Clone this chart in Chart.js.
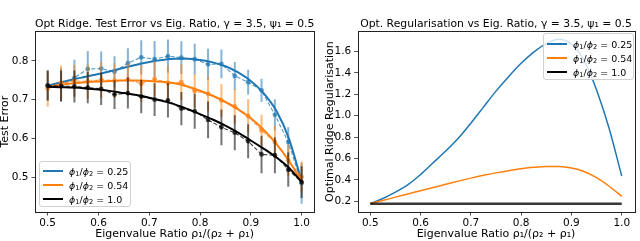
<!DOCTYPE html>
<html><head><meta charset="utf-8">
<script src="https://cdn.jsdelivr.net/npm/chart.js@4.4.1/dist/chart.umd.min.js"></script>
<style>
body{margin:0;background:#fff;width:640px;height:241px;overflow:hidden;position:relative;font-family:"DejaVu Sans",sans-serif;}
canvas{position:absolute;top:0;}
#c1{left:0}
#c2{left:320px}
.leg{position:absolute;background:rgba(255,255,255,0.8);border:1px solid #d0d0d0;border-radius:3px;box-sizing:border-box;font-size:9.5px;color:#000}
.row{position:absolute;height:14px;display:flex;align-items:center;white-space:nowrap}
.sw{display:inline-block;width:20px;margin-right:6px}
.sb{font-size:70%;position:relative;top:0.3em}
</style></head><body>
<canvas id="c1" width="320" height="241"></canvas>
<canvas id="c2" width="320" height="241"></canvas>
<div id="leg1" class="leg" style="left:39px;top:161px;width:92px;height:46px"></div>
<div id="leg2" class="leg" style="left:543px;top:33px;width:91px;height:47px"></div>
<script>
// ---------- data ----------
const seriesRatios = ['0.25', '0.54', '1.0'];
const seriesColors = ['#1f77b4', '#ff7f0e', '#000000'];

// empirical sample points (x)
const xEmp = [0.5, 0.5263, 0.5526, 0.5789, 0.6053, 0.6316, 0.6579, 0.6842, 0.7105, 0.7368,
              0.7632, 0.7895, 0.8158, 0.8421, 0.8684, 0.8947, 0.9211, 0.9474, 0.9737, 1.0];
// theory curve points (x)
const xTh = [0.5, 0.525, 0.55, 0.575, 0.6, 0.625, 0.65, 0.675, 0.7, 0.725, 0.75,
             0.775, 0.8, 0.825, 0.85, 0.875, 0.9, 0.925, 0.95, 0.975, 1.0];

// left: theory test error
const theory025 = [0.736, 0.744, 0.752, 0.759, 0.766, 0.774, 0.782, 0.790, 0.797, 0.802, 0.805,
                   0.805, 0.802, 0.796, 0.786, 0.770, 0.748, 0.717, 0.672, 0.600, 0.490];
const theory054 = [0.733, 0.738, 0.742, 0.745, 0.747, 0.748, 0.749, 0.749, 0.748, 0.746, 0.742,
                   0.734, 0.723, 0.710, 0.694, 0.675, 0.652, 0.623, 0.587, 0.543, 0.490];
const theory100 = [0.733, 0.732, 0.731, 0.729, 0.726, 0.722, 0.717, 0.712, 0.705, 0.697, 0.688,
                   0.676, 0.663, 0.649, 0.633, 0.615, 0.595, 0.574, 0.552, 0.525, 0.488];

// left: empirical test error (means) and error bar half-widths
const emp025 = [0.737, 0.738, 0.756, 0.779, 0.780, 0.772, 0.794, 0.809, 0.804, 0.812,
                0.808, 0.804, 0.791, 0.792, 0.761, 0.745, 0.724, 0.661, 0.591, 0.485];
const std025 = [0.040, 0.043, 0.047, 0.046, 0.044, 0.040, 0.038, 0.044, 0.047, 0.043,
                0.042, 0.040, 0.040, 0.037, 0.036, 0.032, 0.030, 0.040, 0.038, 0.053];
const emp054 = [0.729, 0.743, 0.748, 0.747, 0.751, 0.749, 0.752, 0.741, 0.753, 0.743,
                0.745, 0.722, 0.715, 0.698, 0.683, 0.658, 0.621, 0.591, 0.544, 0.501];
const std054 = [0.047, 0.045, 0.042, 0.044, 0.046, 0.045, 0.043, 0.047, 0.045, 0.044,
                0.046, 0.043, 0.045, 0.042, 0.044, 0.043, 0.040, 0.042, 0.040, 0.040];
const emp100 = [0.736, 0.735, 0.734, 0.731, 0.728, 0.713, 0.717, 0.708, 0.700, 0.698,
                0.677, 0.670, 0.648, 0.629, 0.615, 0.593, 0.559, 0.557, 0.520, 0.488];
const std100 = [0.038, 0.040, 0.041, 0.040, 0.042, 0.037, 0.040, 0.043, 0.042, 0.044,
                0.043, 0.045, 0.047, 0.046, 0.045, 0.044, 0.048, 0.046, 0.044, 0.041];

// right: optimal ridge regularisation
const optReg025 = [0.178, 0.225, 0.285, 0.355, 0.450, 0.560, 0.670, 0.790, 0.930, 1.080, 1.230,
                   1.365, 1.490, 1.595, 1.675, 1.716, 1.670, 1.520, 1.240, 0.880, 0.435];
const optReg054 = [0.178, 0.207, 0.238, 0.268, 0.298, 0.328, 0.358, 0.388, 0.416, 0.442, 0.465,
                   0.485, 0.503, 0.517, 0.525, 0.524, 0.510, 0.478, 0.420, 0.340, 0.245];
const optReg100 = [0.177, 0.177, 0.177, 0.177, 0.177, 0.177, 0.177, 0.177, 0.177, 0.177, 0.177,
                   0.177, 0.177, 0.177, 0.177, 0.177, 0.177, 0.177, 0.177, 0.177, 0.177];

// ticks
const xTicks = [0.5, 0.6, 0.7, 0.8, 0.9, 1.0];
const yTicksLeft = [0.5, 0.6, 0.7, 0.8];
const yTicksRight = [0.2, 0.4, 0.6, 0.8, 1.0, 1.2, 1.4, 1.6];

// ---------- helpers ----------
function rgba(hex, a) {
  const n = parseInt(hex.slice(1), 16);
  return `rgba(${(n >> 16) & 255},${(n >> 8) & 255},${n & 255},${a})`;
}
const pts = (xs, ys) => xs.map((x, i) => ({x, y: ys[i]}));
function errSegs(xs, ys, es) {
  const out = [];
  xs.forEach((x, i) => {
    out.push({x, y: ys[i] - es[i]}, {x, y: ys[i] + es[i]}, {x, y: null});
  });
  return out;
}
const FONT = '"DejaVu Sans", sans-serif';
Chart.defaults.font.family = FONT;
Chart.defaults.color = '#000';

const boxPlugin = {
  id: 'box',
  afterDatasetsDraw(chart) {
    const a = chart.chartArea, ctx = chart.ctx;
    ctx.save();
    ctx.strokeStyle = '#222';
    ctx.lineWidth = 1;
    ctx.strokeRect(Math.round(a.left) + 0.5, Math.round(a.top) + 0.5,
                   Math.round(a.right - a.left), Math.round(a.bottom - a.top));
    ctx.restore();
  }
};

function scalesCfg(yMin, yMax, yTicks, yTitle, yWidth, yTitlePad) {
  return {
    x: {
      type: 'linear', min: 0.475, max: 1.025,
      afterBuildTicks: s => { s.ticks = xTicks.map(v => ({value: v})); },
      afterFit: s => { s.height = 29; },
      ticks: {font: {size: 10.5}, padding: 1, maxRotation: 0, callback: v => v.toFixed(1)},
      grid: {drawOnChartArea: false, drawTicks: true, tickLength: 3.5, color: '#222', lineWidth: 0.8},
      border: {display: false},
      title: {display: true, text: 'Eigenvalue Ratio ρ₁/(ρ₂ + ρ₁)', font: {size: 11}, padding: {top: 0, bottom: 0}}
    },
    y: {
      type: 'linear', min: yMin, max: yMax,
      afterBuildTicks: s => { s.ticks = yTicks.map(v => ({value: v})); },
      afterFit: s => { s.width = yWidth; },
      ticks: {font: {size: 10.5}, padding: 3, callback: v => v.toFixed(1)},
      grid: {drawOnChartArea: false, drawTicks: true, tickLength: 3.5, color: '#222', lineWidth: 0.8},
      border: {display: false},
      title: {display: true, text: yTitle, font: {size: 11, lineHeight: 1}, padding: {top: yTitlePad, bottom: 0}}
    }
  };
}

// ---------- left chart ----------
const theoryArr = [theory025, theory054, theory100];
const empArr = [emp025, emp054, emp100];
const stdArr = [std025, std054, std100];
const leftSets = [];
for (let s = 0; s < 3; s++) {
  const c = seriesColors[s];
  const base = (2 - s) * 3; // blue group at bottom, black on top
  leftSets.push({
    data: pts(xTh, theoryArr[s]), borderColor: c, borderWidth: 2, pointRadius: 0,
    cubicInterpolationMode: 'monotone', order: base + 1
  });
  leftSets.push({
    data: pts(xEmp, empArr[s]), borderColor: rgba(c, 0.75), borderWidth: 1.1, borderDash: [4, 2],
    pointRadius: 2.4, pointBackgroundColor: rgba(c, 0.7), pointBorderWidth: 0, order: base + 2
  });
  leftSets.push({
    data: errSegs(xEmp, empArr[s], stdArr[s]), borderColor: rgba(c, 0.55), borderWidth: 2,
    pointRadius: 0, spanGaps: false, order: base + 3
  });
}

const titleFont = {size: 10.8, weight: 'normal', lineHeight: 1.2};

new Chart(document.getElementById('c1'), {
  type: 'line',
  data: {datasets: leftSets},
  options: {
    responsive: false, animation: false, devicePixelRatio: 1,
    layout: {padding: {left: 0, right: 5.7, top: 0, bottom: 0}},
    plugins: {
      legend: {display: false}, tooltip: {enabled: false},
      title: {display: true, fullSize: false, text: 'Opt Ridge. Test Error vs Eig. Ratio, γ = 3.5, ψ₁ = 0.5',
              font: titleFont, padding: {top: 17.3, bottom: 1.0}, color: '#000'}
    },
    scales: scalesCfg(0.411, 0.876, yTicksLeft, 'Test Error', 35, 0)
  },
  plugins: [boxPlugin]
});

// ---------- right chart ----------
const optArr = [optReg025, optReg054, optReg100];
const rightSets = optArr.map((arr, s) => ({
  data: pts(xTh, arr),
  borderColor: s === 2 ? 'rgba(0,0,0,0.78)' : seriesColors[s],
  borderWidth: s === 2 ? 2.5 : 1.5,
  pointRadius: 0, cubicInterpolationMode: 'monotone', order: 3 - s
}));

new Chart(document.getElementById('c2'), {
  type: 'line',
  data: {datasets: rightSets},
  options: {
    responsive: false, animation: false, devicePixelRatio: 1,
    layout: {padding: {left: 0, right: 5.7, top: 0, bottom: 0}},
    plugins: {
      legend: {display: false}, tooltip: {enabled: false},
      title: {display: true, fullSize: false, text: 'Opt. Regularisation vs Eig. Ratio, γ = 3.5, ψ₁ = 0.5',
              font: titleFont, padding: {top: 17.3, bottom: 1.0}, color: '#000'}
    },
    scales: scalesCfg(0.099, 1.79, yTicksRight, 'Optimal Ridge Regularisation', 37.7, 4.5)
  },
  plugins: [boxPlugin]
});

// ---------- legends (HTML overlay, real text) ----------
function buildLegend(id, centers, lineW, swLeft) {
  const el = document.getElementById(id);
  seriesRatios.forEach((r, i) => {
    const row = document.createElement('div');
    row.className = 'row';
    row.style.top = (centers[i] - 7) + 'px';
    row.style.left = swLeft + 'px';
    const sw = document.createElement('span');
    sw.className = 'sw';
    sw.style.height = lineW + 'px';
    sw.style.background = seriesColors[i];
    row.appendChild(sw);
    const t = document.createElement('span');
    t.innerHTML = '<i>ϕ</i><span class="sb">1</span>/<i>ϕ</i><span class="sb">2</span> = ' + r;
    row.appendChild(t);
    el.appendChild(row);
  });
}
buildLegend('leg1', [9, 23, 37], 2, 3);
buildLegend('leg2', [10, 24, 38], 2, 3);
</script>
</body></html>
